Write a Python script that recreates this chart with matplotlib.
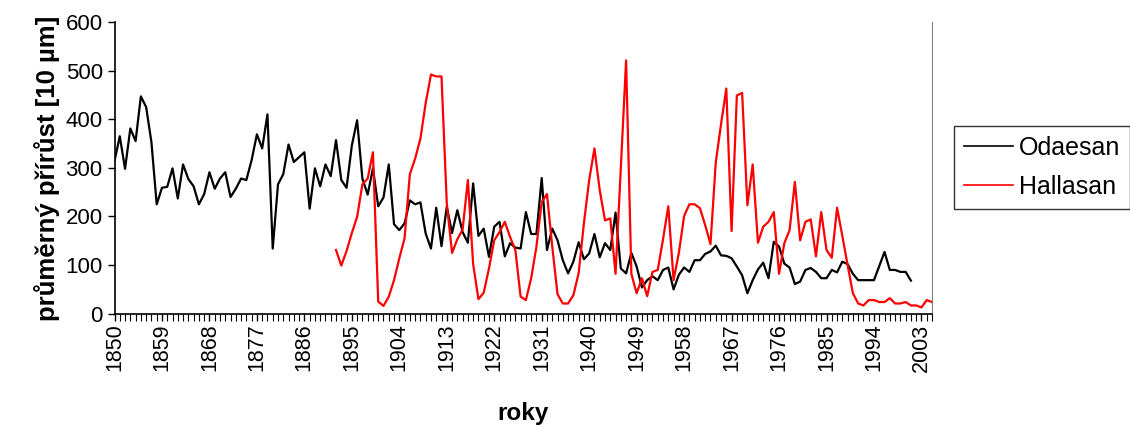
import numpy as np
import matplotlib
matplotlib.use("Agg")
import matplotlib.pyplot as plt
from matplotlib.ticker import FixedLocator, MultipleLocator

plt.rcParams['font.family'] = ['Liberation Sans', 'DejaVu Sans']

# prumerny prirust, Odaesan 1850-2001
odaesan = [314, 365, 298, 381, 355, 447, 425, 353, 225, 259,
           261, 299, 237, 307, 277, 262, 225, 246, 291, 257,
           278, 291, 240, 257, 278, 275, 316, 369, 340, 410,
           134, 266, 287, 348, 312, 322, 332, 216, 299, 262,
           307, 283, 357, 275, 259, 346, 398, 278, 245, 299,
           221, 239, 307, 184, 172, 186, 233, 225, 229, 165,
           134, 218, 139, 220, 166, 213, 168, 146, 268, 160,
           175, 117, 179, 189, 118, 145, 136, 134, 209, 164,
           164, 279, 131, 175, 151, 110, 83, 107, 147, 112,
           124, 164, 116, 145, 131, 208, 93, 83, 125, 97,
           54, 69, 77, 69, 90, 95, 50, 80, 95, 86,
           110, 110, 123, 128, 140, 120, 119, 114, 97, 79,
           42, 69, 91, 105, 73, 148, 138, 103, 95, 61,
           66, 90, 94, 86, 73, 73, 90, 85, 107, 102,
           82, 69, 69, 69, 69, 98, 127, 90, 90, 86,
           86, 68]

# Hallasan 1892-2005
hallasan = [131, 99, 129, 166, 199, 266, 278, 332, 25, 16,
            35, 69, 114, 155, 287, 319, 360, 433, 492, 488,
            488, 227, 125, 153, 173, 275, 102, 30, 43, 93,
            151, 168, 189, 158, 131, 35, 28, 73, 138, 230,
            246, 138, 40, 21, 21, 38, 83, 186, 275, 340,
            254, 192, 196, 82, 300, 521, 82, 42, 73, 36,
            86, 90, 153, 221, 69, 125, 201, 225, 225, 217,
            182, 143, 311, 390, 463, 170, 449, 454, 223, 307,
            146, 179, 189, 209, 82, 145, 172, 271, 151, 189,
            194, 118, 209, 131, 115, 218, 160, 100, 42, 21,
            17, 28, 28, 24, 24, 32, 21, 21, 24, 17,
            17, 13, 28, 24]

roky_o = np.arange(1850, 1850 + len(odaesan))
roky_h = np.arange(1892, 1892 + len(hallasan))
popisky = list(range(1850, 2004, 9))

fig = plt.figure(figsize=(11.3, 4.29), dpi=100)
ax = fig.add_axes([114.5 / 1130, 1 - 313.7 / 429, (932 - 114.5) / 1130, (313.7 - 22) / 429])

ax.plot(roky_o, odaesan, color='black', lw=1.6, label='Odaesan')
ax.plot(roky_h, hallasan, color='#ff0000', lw=1.6, label='Hallasan')

ax.set_xlim(1850, 2005)
ax.set_ylim(0, 600)
ax.yaxis.set_major_locator(MultipleLocator(100))
ax.xaxis.set_major_locator(FixedLocator(popisky))
ax.xaxis.set_minor_locator(MultipleLocator(1))
ax.set_xticklabels([str(r) for r in popisky], rotation=90)
ax.tick_params(axis='both', which='major', labelsize=16, length=5, width=1, color='black')
ax.tick_params(axis='x', which='major', labelsize=15.5, pad=2)
ax.tick_params(axis='x', which='minor', length=5, width=0.8, color='black')

ax.spines['top'].set_visible(False)
ax.spines['right'].set_color('#808080')
ax.spines['left'].set_linewidth(1.2)
ax.spines['bottom'].set_linewidth(1.2)

ax.set_ylabel('průměrný přírůst [10 µm]', fontsize=18.5, fontweight='bold', labelpad=4)
ax.set_xlabel('roky', fontsize=17.5, fontweight='bold', labelpad=22)

leg = fig.legend(loc='upper left', bbox_to_anchor=(954 / 1130, 1 - 126 / 429),
                 fontsize=18, frameon=True, fancybox=False, edgecolor='black',
                 handlelength=1.95, borderpad=0.4, labelspacing=0.6, handletextpad=0.25,
                 borderaxespad=0)
leg.get_frame().set_linewidth(1.0)
for h in leg.get_lines():
    h.set_linewidth(1.2)

fig.savefig('out.png', dpi=100)
